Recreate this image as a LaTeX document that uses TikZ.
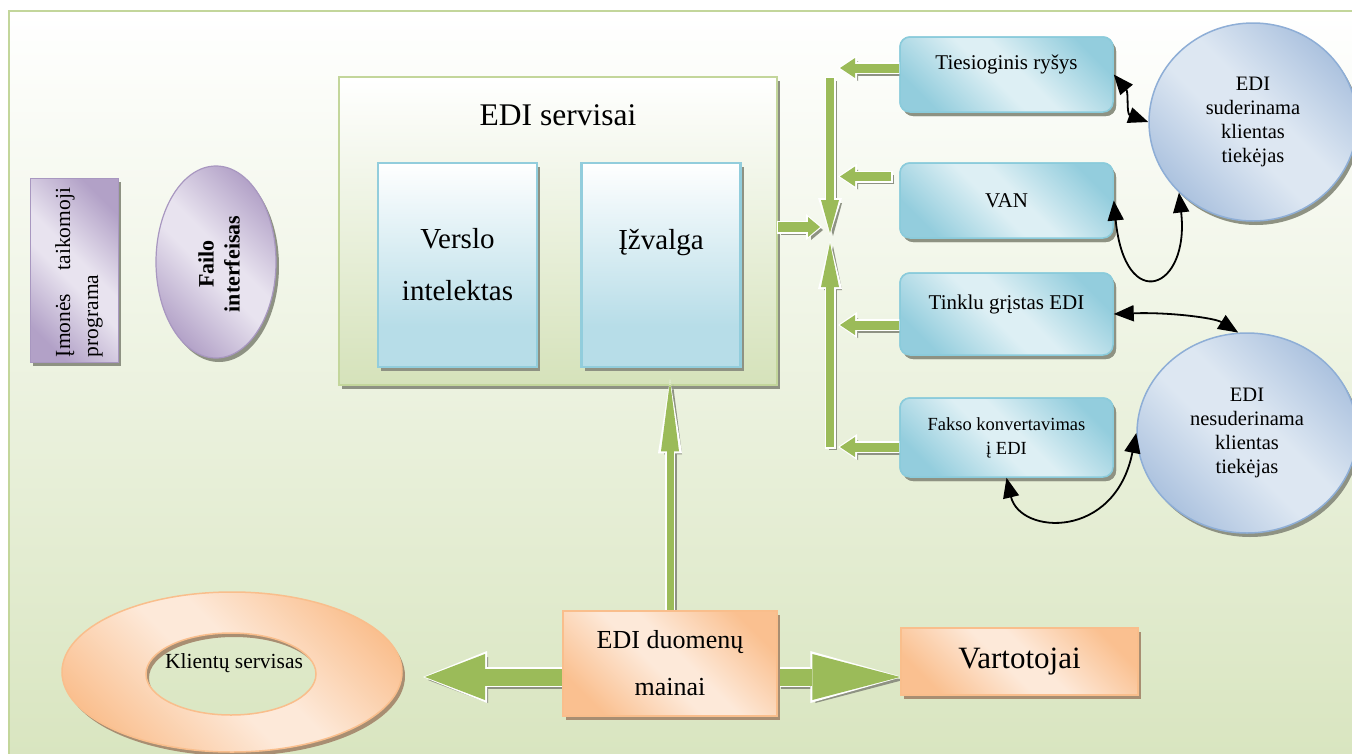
\documentclass[tikz,border=0pt]{standalone}
\usepackage{fontspec}
\setmainfont{Liberation Serif}
\usetikzlibrary{arrows.meta,shapes.geometric,shadows,calc}

% palette
\definecolor{framec}{HTML}{C3D69B}
\definecolor{bggreen}{HTML}{D7E4BD}
\definecolor{srvgreen}{HTML}{D5E2BA}
\definecolor{arrgreen}{HTML}{9BBB59}
\definecolor{shadowc}{HTML}{8E9283}
\definecolor{shadowo}{HTML}{A88E72}
\definecolor{bdark}{HTML}{93CDDD}
\definecolor{blight}{HTML}{DDEFF4}
\definecolor{bbord}{HTML}{8ACBDB}
\definecolor{iblue}{HTML}{B7DDE8}
\definecolor{ibord}{HTML}{92CDDC}
\definecolor{odark}{HTML}{FAC090}
\definecolor{olight}{HTML}{FDE9D9}
\definecolor{obord}{HTML}{F9BE8C}
\definecolor{pdark}{HTML}{B2A1C7}
\definecolor{plight}{HTML}{E8E3EF}
\definecolor{pbord}{HTML}{A897C0}
\definecolor{cdark}{HTML}{A5BDDC}
\definecolor{clight}{HTML}{DDE7F2}
\definecolor{cbord}{HTML}{8EAED6}

% diagonal dark-light-dark fills
\pgfdeclarehorizontalshading{blueband}{100bp}{color(0bp)=(bdark); color(24bp)=(bdark); color(46bp)=(blight); color(54bp)=(blight); color(76bp)=(bdark); color(100bp)=(bdark)}
\pgfdeclarehorizontalshading{orangeband}{100bp}{color(0bp)=(odark); color(24bp)=(odark); color(46bp)=(olight); color(54bp)=(olight); color(76bp)=(odark); color(100bp)=(odark)}
\pgfdeclarehorizontalshading{purpleband}{100bp}{color(0bp)=(pdark); color(24bp)=(pdark); color(46bp)=(plight); color(54bp)=(plight); color(76bp)=(pdark); color(100bp)=(pdark)}
\pgfdeclarehorizontalshading{circleband}{100bp}{color(0bp)=(cdark); color(22bp)=(cdark); color(45bp)=(clight); color(55bp)=(clight); color(78bp)=(cdark); color(100bp)=(cdark)}
\pgfdeclareverticalshading{vband}{100bp}{color(0bp)=(iblue); color(35bp)=(iblue); color(75bp)=(white); color(100bp)=(white)}

% green block arrow: shaft width, head width, head length, from, to
\newcommand\grarrow[5]{%
  \pgfmathsetmacro\grsw{#1+3}%
  \pgfmathsetmacro\grhw{#2+6}%
  \pgfmathsetmacro\grhl{#3+4}%
  \draw[shadowc, line width=#1pt, -{Triangle[length=#3pt,width=#2pt,line width=0pt]}, transform canvas={xshift=3pt,yshift=-3pt}] #4 -- #5;
  \draw[white, line width=\grsw pt, shorten >=-2pt, shorten <=-1.5pt, -{Triangle[length=\grhl pt,width=\grhw pt,line width=0pt]}] #4 -- #5;
  \draw[arrgreen, line width=#1pt, -{Triangle[length=#3pt,width=#2pt,line width=0pt]}] #4 -- #5;
}

\tikzset{
  shd/.style={drop shadow={shadow xshift=3pt,shadow yshift=-4pt,fill=shadowc,opacity=1}},
  shdo/.style={drop shadow={shadow xshift=3pt,shadow yshift=-4pt,fill=shadowo,opacity=1}},
  bluebox/.style={rectangle, rounded corners=10pt, minimum width=213pt, inner sep=0pt,
    draw=bbord, line width=1.5pt, shade, shading=blueband, shading angle=45, shd, align=center,
    font=\fontsize{21}{24}\selectfont},
  ibox/.style={rectangle, minimum width=159pt, minimum height=204pt, inner sep=0pt,
    draw=ibord, line width=2.5pt, shade, shading=vband, shd, align=center,
    font=\fontsize{29}{52}\selectfont},
  obox/.style={rectangle, inner sep=0pt, draw=obord, line width=1.5pt, shade,
    shading=orangeband, shading angle=45, shdo, align=center},
  cbubble/.style={ellipse, inner sep=0pt, draw=cbord, line width=1.5pt, shade,
    shading=circleband, shading angle=45, shd, align=center,
    font=\fontsize{20.5}{23.7}\selectfont},
  conn/.style={draw=black, line width=1.8pt,
    {Triangle[length=20pt,width=16pt]}-{Triangle[length=20pt,width=16pt]}},
}

\begin{document}
\begin{tikzpicture}[x=1pt,y=-1pt]
\useasboundingbox (0,0) rectangle (1352,753);
\clip (0,0) rectangle (1352,753);

% page frame
\draw[line width=2.5pt, draw=framec, top color=white, bottom color=bggreen] (9,11) rectangle (1385,790);

% EDI services block
\node[rectangle, minimum width=438pt, minimum height=308pt, inner sep=0pt, draw=framec,
  line width=2.5pt, top color=white, bottom color=srvgreen, shd] (srv) at (558,231) {};
\node[anchor=base, font=\fontsize{31.5}{36}\selectfont] (ttl) at (558,125) {EDI servisai};
\node[ibox] (vi) at (457.5,265) {Verslo\\intelektas};
\node[ibox] (iz) at (661,265) {Įžvalga\\~};

% left-hand elements
\node[rectangle, minimum width=88pt, minimum height=184pt, inner sep=0pt, draw=pbord,
  line width=1pt, shade, shading=purpleband, shading angle=45, shd] (app) at (74,270) {};
\node[rotate=90, inner sep=0pt, font=\fontsize{21.5}{28}\selectfont] (appt) at (79,272.5)
  {\parbox{169pt}{Įmonės\hfill taikomoji\\programa}};
\node[ellipse, minimum width=120pt, minimum height=192pt, inner sep=0pt, draw=pbord,
  line width=1.2pt, shade, shading=purpleband, shading angle=45, shd] (fi) at (216,262) {};
\node[rotate=90, align=center, font=\bfseries\fontsize{22}{26}\selectfont] (fit) at (219,264)
  {Failo\\interfeisas};

% network boxes and partners
\node[bluebox, minimum height=75pt] (tr) at (1006.5,74.5) {Tiesioginis ryšys\\~};
\node[bluebox, minimum height=75pt] (van) at (1006.5,200.5) {VAN};
\node[bluebox, minimum height=82pt] (tg) at (1006.5,314) {Tinklu grįstas EDI\\~};
\node[bluebox, minimum height=79pt, font=\fontsize{18.5}{24}\selectfont] (fk) at (1006.5,437.5)
  {Fakso konvertavimas\\į EDI};

\node[cbubble, minimum width=208pt, minimum height=198pt] (c1) at (1253,122)
  {EDI\\suderinama\\klientas\\tiekėjas};
\node[cbubble, minimum width=220pt, minimum height=200pt] (c2) at (1247,433)
  {EDI\\nesuderinama\\klientas\\tiekėjas};

% hub points of the green arrows
\coordinate (hubA) at (830,78);
\coordinate (hubB) at (830,233);
\coordinate (hubC) at (830,447);
\coordinate (hubD) at (830,243);
\coordinate (hubE) at (820,227);
\coordinate (colL) at (840,0);
\coordinate (srvR) at ([yshift=4pt]srv.east);
\coordinate (trL) at ([yshift=6.5pt]tr.west);
\coordinate (vanL) at ($(van.west)+(-8,-24)$);
\coordinate (tgL) at ([yshift=-11pt]tg.west);
\coordinate (fkL) at ([yshift=-9.5pt]fk.west);

% bottom row
\node[obox, minimum width=214pt, minimum height=105pt, font=\fontsize{26}{47}\selectfont] (ed)
  at (670,663.5) {EDI duomenų\\mainai};
\node[obox, minimum width=237pt, minimum height=67pt, font=\fontsize{31}{36}\selectfont] (vt)
  at (1019.5,661.5) {Vartotojai};
\coordinate (edR) at ([yshift=-13.5pt]ed.east);
\coordinate (edL) at ([yshift=-13.5pt]ed.west);
\coordinate (ringtip) at (425,677);
\coordinate (edT) at (ed.north);
\coordinate (srvB) at ($(edT |- srv.south)+(0,-5)$);

% green arrows
\grarrow{8}{18}{33}{(hubA)}{(hubB)}
\grarrow{8}{18}{44}{(hubC)}{(hubD)}
\grarrow{10}{20}{12}{(srvR)}{(hubE)}
\grarrow{9}{20}{15}{(trL)}{(trL -| colL)}
\grarrow{9}{20}{15}{(vanL)}{(vanL -| colL)}
\grarrow{9}{20}{15}{(tgL)}{(tgL -| colL)}
\grarrow{9}{20}{15}{(fkL)}{(fkL -| colL)}
\grarrow{7}{18}{70}{(edT)}{(srvB)}
\grarrow{17}{46}{60}{(edL)}{(ringtip)}
\grarrow{17}{46}{88}{(edR)}{(edR -| vt.west)}

% redraw boxes that the arrow tails start from
\node[bluebox, minimum height=75pt] at (tr) {Tiesioginis ryšys\\~};
\node[bluebox, minimum height=75pt] at (van) {VAN};
\node[bluebox, minimum height=82pt] at (tg) {Tinklu grįstas EDI\\~};
\node[bluebox, minimum height=79pt, font=\fontsize{18.5}{24}\selectfont] at (fk)
  {Fakso konvertavimas\\į EDI};
\node[obox, minimum width=214pt, minimum height=105pt, font=\fontsize{26}{47}\selectfont]
  at (ed) {EDI duomenų\\mainai};
\node[obox, minimum width=237pt, minimum height=67pt, font=\fontsize{31}{36}\selectfont]
  at (vt) {Vartotojai};

% customer service ring
\fill[shadowo, even odd rule] (235,676) ellipse [x radius=170pt, y radius=80pt]
  (234,678) ellipse [x radius=85pt, y radius=41pt];
\shade[even odd rule, shading=orangeband, shading angle=45] (232,672) ellipse [x radius=170pt, y radius=80pt]
  (231,674) ellipse [x radius=85pt, y radius=41pt];
\draw[obord, line width=1.5pt] (232,672) ellipse [x radius=170pt, y radius=80pt]
  (231,674) ellipse [x radius=85pt, y radius=41pt];
\node[font=\fontsize{21.5}{24}\selectfont] (ks) at (234,663) {Klientų servisas};

% partner links
\draw[conn] (tr.east) .. controls +(15,18) and +(-22,-8) .. (c1.west);
\draw[conn] (van.east) .. controls (1125,315) and (1190,290) .. (c1.south west);
\draw[conn] (tg.east) .. controls (1170,312) and (1215,318) .. (c2.95);
\draw[conn] (fk.south) .. controls (1020,535) and (1115,540) .. (c2.west);
\end{tikzpicture}
\end{document}
